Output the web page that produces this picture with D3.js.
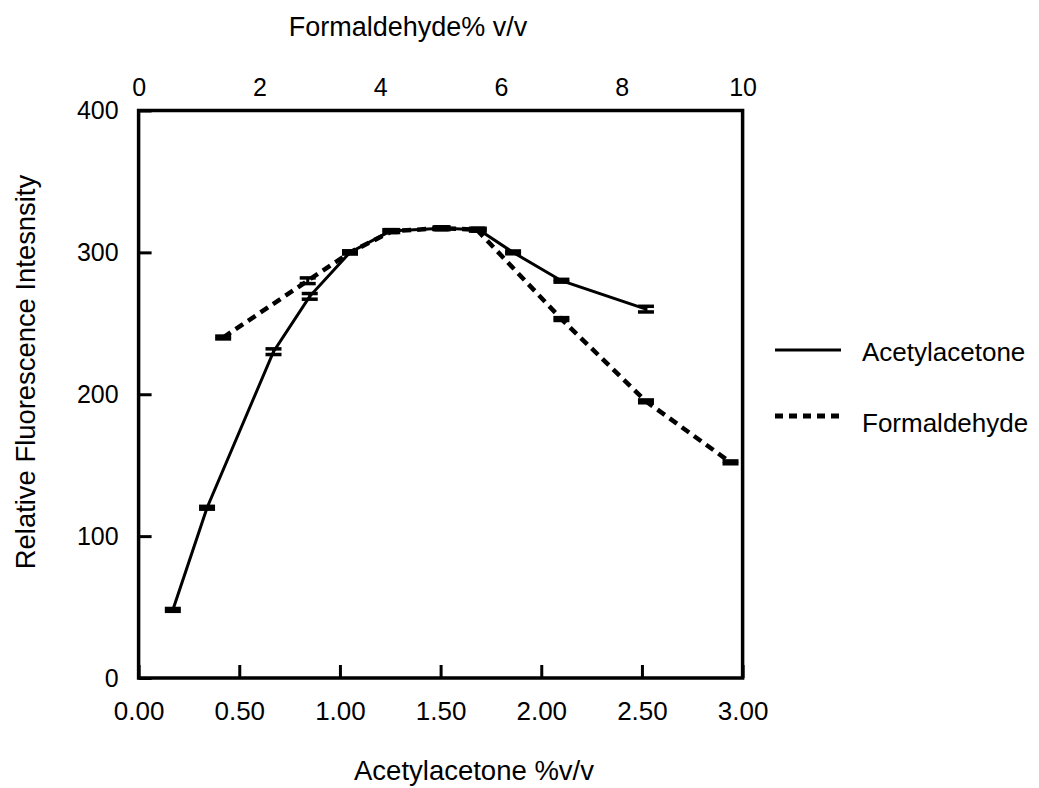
<!DOCTYPE html>
<html>
<head>
<meta charset="utf-8">
<script src="https://cdn.jsdelivr.net/npm/d3@7"></script>
<style>
  body { margin: 0; background: #fff; }
  svg text { font-family: "Liberation Sans", Arial, sans-serif; fill: #000; }
</style>
</head>
<body>
<div id="container"></div>
<script>
// data
let acetylX   = [0.17, 0.34, 0.67, 0.85, 1.05, 1.25, 1.51, 1.69, 1.86, 2.10, 2.52];
let acetylY   = [48, 120, 230, 269, 300, 315, 317, 316, 300, 280, 260];
let acetylErr = [1, 1, 2, 2, 1, 1, 1, 1, 1, 1, 2];

let formX   = [1.4, 2.8, 3.5, 4.2, 5.0, 5.6, 7.0, 8.4, 9.8];
let formY   = [240, 280, 300, 315, 317, 316, 253, 195, 152];
let formErr = [1, 2, 1, 1, 1, 1, 1, 1, 1];

let bottomTicks = [0, 0.5, 1, 1.5, 2, 2.5, 3];
let topTicks = [0, 2, 4, 6, 8, 10];
let yTicks = [0, 100, 200, 300, 400];

let w = 1039;
let h = 788;
let padLeft = 138.6, padRight = 742.6, padTop = 110.5, padBottom = 678;

let viz = d3.select("#container")
  .append("svg")
    .attr("width", w)
    .attr("height", h)
;

let xScale = d3.scaleLinear().domain([0, 3]).range([padLeft, padRight]);
let xTopScale = d3.scaleLinear().domain([0, 10]).range([padLeft, padRight]);
let yScale = d3.scaleLinear().domain([0, 400]).range([padBottom, padTop]);

// bottom axis, ticks pointing inward
let xAxis = d3.axisBottom(xScale).tickValues(bottomTicks)
  .tickFormat(d3.format(".2f")).tickSize(-13).tickPadding(24);
let xAxisGroup = viz.append("g").attr("class", "xaxis")
  .attr("transform", "translate(0, " + padBottom + ")")
  .call(xAxis);

let xTopAxis = d3.axisTop(xTopScale).tickValues(topTicks).tickSize(0).tickPadding(15);
let xTopGroup = viz.append("g").attr("class", "xtop")
  .attr("transform", "translate(0, " + padTop + ")")
  .call(xTopAxis);

let yAxis = d3.axisLeft(yScale).tickValues(yTicks).tickSize(-13).tickPadding(20);
let yAxisGroup = viz.append("g").attr("class", "yaxis")
  .attr("transform", "translate(" + padLeft + ", 0)")
  .call(yAxis);

viz.selectAll(".domain").remove();
viz.selectAll(".tick line").attr("stroke", "#000").attr("stroke-width", 3);
viz.selectAll(".tick text").attr("font-size", "25px");
xAxisGroup.selectAll(".tick text").attr("font-size", "26px");

// frame
viz.append("rect")
  .attr("x", padLeft).attr("y", padTop)
  .attr("width", padRight - padLeft).attr("height", padBottom - padTop)
  .attr("fill", "none").attr("stroke", "#000").attr("stroke-width", 3.5);

let acetylData = acetylX.map(function(d, i){ return {x: xScale(d), v: acetylY[i], e: acetylErr[i]}; });
let formData = formX.map(function(d, i){ return {x: xTopScale(d), v: formY[i], e: formErr[i]}; });

let line = d3.line()
  .x(function(d){ return d.x; })
  .y(function(d){ return yScale(d.v); });

viz.append("path").datum(acetylData)
  .attr("d", line).attr("fill", "none")
  .attr("stroke", "#000").attr("stroke-width", 3);

viz.append("path").datum(formData)
  .attr("d", line).attr("fill", "none")
  .attr("stroke", "#000").attr("stroke-width", 4.5)
  .attr("stroke-dasharray", "9,6");

// error bars (caps)
function drawErrors(data){
  let g = viz.append("g");
  data.forEach(function(d){
    [d.v + d.e, d.v - d.e].forEach(function(v){
      g.append("line")
        .attr("x1", d.x - 8).attr("x2", d.x + 8)
        .attr("y1", yScale(v)).attr("y2", yScale(v))
        .attr("stroke", "#000").attr("stroke-width", 3.5);
    });
    g.append("line")
      .attr("x1", d.x).attr("x2", d.x)
      .attr("y1", yScale(d.v + d.e)).attr("y2", yScale(d.v - d.e))
      .attr("stroke", "#000").attr("stroke-width", 3);
  });
}
drawErrors(acetylData);
drawErrors(formData);

// axis titles
viz.append("text").text("Formaldehyde% v/v")
  .attr("x", 408).attr("y", 36).attr("text-anchor", "middle").attr("font-size", "27px");
viz.append("text").text("Acetylacetone %v/v")
  .attr("x", 474).attr("y", 780).attr("text-anchor", "middle").attr("font-size", "27.5px");
viz.append("text").text("Relative Fluorescence Intesnsity")
  .attr("transform", "translate(35, 372) rotate(-90)")
  .attr("text-anchor", "middle").attr("font-size", "27.4px");

// legend
let legend = viz.append("g");
legend.append("line").attr("x1", 775).attr("x2", 841).attr("y1", 350).attr("y2", 350)
  .attr("stroke", "#000").attr("stroke-width", 3);
legend.append("text").text("Acetylacetone").attr("x", 862).attr("y", 361).attr("font-size", "26px");
legend.append("line").attr("x1", 775).attr("x2", 841).attr("y1", 416).attr("y2", 416)
  .attr("stroke", "#000").attr("stroke-width", 5).attr("stroke-dasharray", "8,6");
legend.append("text").text("Formaldehyde").attr("x", 862).attr("y", 432).attr("font-size", "26px");
</script>
</body>
</html>
